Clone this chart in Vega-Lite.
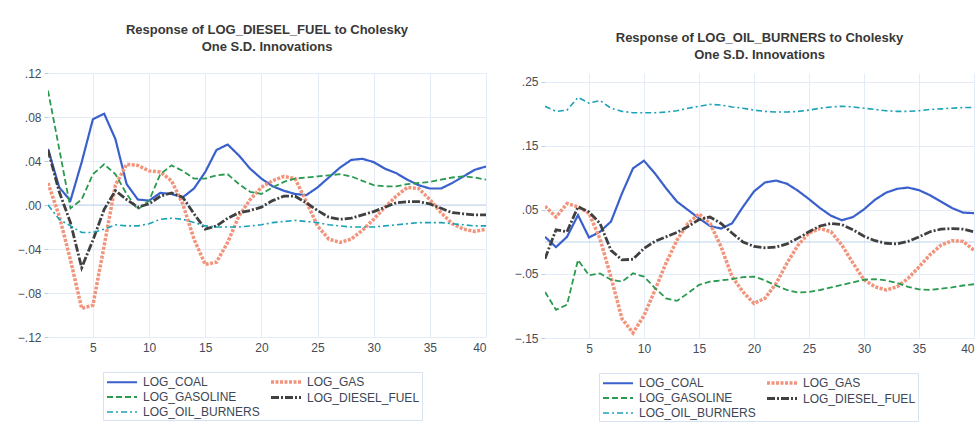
{
 "$schema": "https://vega.github.io/schema/vega-lite/v6.json",
 "padding": {"left": 17, "top": 24, "right": 0, "bottom": 0},
 "background": "white",
 "bounds": "flush",
 "spacing": 59,
 "config": {
  "view": {"stroke": null},
  "font": "Liberation Sans",
  "axis": {"labelFont": "Liberation Sans", "labelFontSize": 12, "labelColor": "#444c58", "gridColor": "#e4edf7", "gridWidth": 1, "domain": false, "tickColor": "#b9cfe8", "title": null},
  "title": {"font": "Liberation Sans", "fontSize": 13, "fontWeight": "bold", "color": "#383838", "lineHeight": 17, "anchor": "middle"},
  "legend": {"orient": "none", "columns": 2, "symbolType": "M-2.5,0H2.5", "symbolSize": 144, "symbolOffset": 9, "symbolStrokeWidth": 2.2, "labelFont": "Liberation Sans", "labelFontSize": 12, "labelColor": "#3c4654", "strokeColor": "#d6e2ef", "padding": 2, "rowPadding": 1, "columnPadding": 4, "labelOffset": 13, "title": null, "labelLimit": 300}
 },
 "resolve": {"scale": {"color": "independent", "strokeDash": "independent", "strokeWidth": "independent", "x": "independent", "y": "independent"}, "legend": {"color": "independent", "strokeDash": "independent"}},
 "datasets": {
  "left": [
   {"t":1,"s":"LOG_COAL","v":0.051},{"t":2,"s":"LOG_COAL","v":0.016},{"t":3,"s":"LOG_COAL","v":0.004},{"t":4,"s":"LOG_COAL","v":0.039},{"t":5,"s":"LOG_COAL","v":0.078},{"t":6,"s":"LOG_COAL","v":0.083},{"t":7,"s":"LOG_COAL","v":0.060},{"t":8,"s":"LOG_COAL","v":0.019},{"t":9,"s":"LOG_COAL","v":0.005},{"t":10,"s":"LOG_COAL","v":0.004},
   {"t":11,"s":"LOG_COAL","v":0.011},{"t":12,"s":"LOG_COAL","v":0.010},{"t":13,"s":"LOG_COAL","v":0.007},{"t":14,"s":"LOG_COAL","v":0.015},{"t":15,"s":"LOG_COAL","v":0.030},{"t":16,"s":"LOG_COAL","v":0.050},{"t":17,"s":"LOG_COAL","v":0.055},{"t":18,"s":"LOG_COAL","v":0.045},{"t":19,"s":"LOG_COAL","v":0.033},{"t":20,"s":"LOG_COAL","v":0.024},
   {"t":21,"s":"LOG_COAL","v":0.017},{"t":22,"s":"LOG_COAL","v":0.013},{"t":23,"s":"LOG_COAL","v":0.010},{"t":24,"s":"LOG_COAL","v":0.009},{"t":25,"s":"LOG_COAL","v":0.016},{"t":26,"s":"LOG_COAL","v":0.025},{"t":27,"s":"LOG_COAL","v":0.034},{"t":28,"s":"LOG_COAL","v":0.041},{"t":29,"s":"LOG_COAL","v":0.042},{"t":30,"s":"LOG_COAL","v":0.039},
   {"t":31,"s":"LOG_COAL","v":0.033},{"t":32,"s":"LOG_COAL","v":0.029},{"t":33,"s":"LOG_COAL","v":0.023},{"t":34,"s":"LOG_COAL","v":0.018},{"t":35,"s":"LOG_COAL","v":0.015},{"t":36,"s":"LOG_COAL","v":0.015},{"t":37,"s":"LOG_COAL","v":0.020},{"t":38,"s":"LOG_COAL","v":0.026},{"t":39,"s":"LOG_COAL","v":0.032},{"t":40,"s":"LOG_COAL","v":0.035},
   {"t":1,"s":"LOG_GAS","v":0.020},{"t":2,"s":"LOG_GAS","v":-0.010},{"t":3,"s":"LOG_GAS","v":-0.050},{"t":4,"s":"LOG_GAS","v":-0.094},{"t":5,"s":"LOG_GAS","v":-0.091},{"t":6,"s":"LOG_GAS","v":-0.037},{"t":7,"s":"LOG_GAS","v":0.018},{"t":8,"s":"LOG_GAS","v":0.037},{"t":9,"s":"LOG_GAS","v":0.036},{"t":10,"s":"LOG_GAS","v":0.031},
   {"t":11,"s":"LOG_GAS","v":0.030},{"t":12,"s":"LOG_GAS","v":0.022},{"t":13,"s":"LOG_GAS","v":0.001},{"t":14,"s":"LOG_GAS","v":-0.031},{"t":15,"s":"LOG_GAS","v":-0.054},{"t":16,"s":"LOG_GAS","v":-0.052},{"t":17,"s":"LOG_GAS","v":-0.034},{"t":18,"s":"LOG_GAS","v":-0.010},{"t":19,"s":"LOG_GAS","v":0.005},{"t":20,"s":"LOG_GAS","v":0.016},
   {"t":21,"s":"LOG_GAS","v":0.022},{"t":22,"s":"LOG_GAS","v":0.026},{"t":23,"s":"LOG_GAS","v":0.024},{"t":24,"s":"LOG_GAS","v":0.003},{"t":25,"s":"LOG_GAS","v":-0.019},{"t":26,"s":"LOG_GAS","v":-0.031},{"t":27,"s":"LOG_GAS","v":-0.034},{"t":28,"s":"LOG_GAS","v":-0.031},{"t":29,"s":"LOG_GAS","v":-0.023},{"t":30,"s":"LOG_GAS","v":-0.013},
   {"t":31,"s":"LOG_GAS","v":-0.002},{"t":32,"s":"LOG_GAS","v":0.008},{"t":33,"s":"LOG_GAS","v":0.016},{"t":34,"s":"LOG_GAS","v":0.015},{"t":35,"s":"LOG_GAS","v":0.005},{"t":36,"s":"LOG_GAS","v":-0.007},{"t":37,"s":"LOG_GAS","v":-0.017},{"t":38,"s":"LOG_GAS","v":-0.022},{"t":39,"s":"LOG_GAS","v":-0.024},{"t":40,"s":"LOG_GAS","v":-0.022},
   {"t":1,"s":"LOG_GASOLINE","v":0.104},{"t":2,"s":"LOG_GASOLINE","v":0.051},{"t":3,"s":"LOG_GASOLINE","v":-0.003},{"t":4,"s":"LOG_GASOLINE","v":0.005},{"t":5,"s":"LOG_GASOLINE","v":0.028},{"t":6,"s":"LOG_GASOLINE","v":0.037},{"t":7,"s":"LOG_GASOLINE","v":0.028},{"t":8,"s":"LOG_GASOLINE","v":0.010},{"t":9,"s":"LOG_GASOLINE","v":-0.004},{"t":10,"s":"LOG_GASOLINE","v":0.004},
   {"t":11,"s":"LOG_GASOLINE","v":0.028},{"t":12,"s":"LOG_GASOLINE","v":0.036},{"t":13,"s":"LOG_GASOLINE","v":0.031},{"t":14,"s":"LOG_GASOLINE","v":0.024},{"t":15,"s":"LOG_GASOLINE","v":0.024},{"t":16,"s":"LOG_GASOLINE","v":0.027},{"t":17,"s":"LOG_GASOLINE","v":0.028},{"t":18,"s":"LOG_GASOLINE","v":0.019},{"t":19,"s":"LOG_GASOLINE","v":0.012},{"t":20,"s":"LOG_GASOLINE","v":0.010},
   {"t":21,"s":"LOG_GASOLINE","v":0.016},{"t":22,"s":"LOG_GASOLINE","v":0.021},{"t":23,"s":"LOG_GASOLINE","v":0.024},{"t":24,"s":"LOG_GASOLINE","v":0.025},{"t":25,"s":"LOG_GASOLINE","v":0.026},{"t":26,"s":"LOG_GASOLINE","v":0.027},{"t":27,"s":"LOG_GASOLINE","v":0.028},{"t":28,"s":"LOG_GASOLINE","v":0.026},{"t":29,"s":"LOG_GASOLINE","v":0.022},{"t":30,"s":"LOG_GASOLINE","v":0.018},
   {"t":31,"s":"LOG_GASOLINE","v":0.017},{"t":32,"s":"LOG_GASOLINE","v":0.017},{"t":33,"s":"LOG_GASOLINE","v":0.019},{"t":34,"s":"LOG_GASOLINE","v":0.020},{"t":35,"s":"LOG_GASOLINE","v":0.021},{"t":36,"s":"LOG_GASOLINE","v":0.023},{"t":37,"s":"LOG_GASOLINE","v":0.025},{"t":38,"s":"LOG_GASOLINE","v":0.026},{"t":39,"s":"LOG_GASOLINE","v":0.025},{"t":40,"s":"LOG_GASOLINE","v":0.023},
   {"t":1,"s":"LOG_DIESEL_FUEL","v":0.050},{"t":2,"s":"LOG_DIESEL_FUEL","v":0.012},{"t":3,"s":"LOG_DIESEL_FUEL","v":-0.016},{"t":4,"s":"LOG_DIESEL_FUEL","v":-0.057},{"t":5,"s":"LOG_DIESEL_FUEL","v":-0.032},{"t":6,"s":"LOG_DIESEL_FUEL","v":-0.004},{"t":7,"s":"LOG_DIESEL_FUEL","v":0.013},{"t":8,"s":"LOG_DIESEL_FUEL","v":0.005},{"t":9,"s":"LOG_DIESEL_FUEL","v":-0.002},{"t":10,"s":"LOG_DIESEL_FUEL","v":0.001},
   {"t":11,"s":"LOG_DIESEL_FUEL","v":0.008},{"t":12,"s":"LOG_DIESEL_FUEL","v":0.011},{"t":13,"s":"LOG_DIESEL_FUEL","v":0.007},{"t":14,"s":"LOG_DIESEL_FUEL","v":-0.008},{"t":15,"s":"LOG_DIESEL_FUEL","v":-0.022},{"t":16,"s":"LOG_DIESEL_FUEL","v":-0.019},{"t":17,"s":"LOG_DIESEL_FUEL","v":-0.012},{"t":18,"s":"LOG_DIESEL_FUEL","v":-0.007},{"t":19,"s":"LOG_DIESEL_FUEL","v":-0.005},{"t":20,"s":"LOG_DIESEL_FUEL","v":-0.002},
   {"t":21,"s":"LOG_DIESEL_FUEL","v":0.004},{"t":22,"s":"LOG_DIESEL_FUEL","v":0.008},{"t":23,"s":"LOG_DIESEL_FUEL","v":0.008},{"t":24,"s":"LOG_DIESEL_FUEL","v":0.002},{"t":25,"s":"LOG_DIESEL_FUEL","v":-0.005},{"t":26,"s":"LOG_DIESEL_FUEL","v":-0.011},{"t":27,"s":"LOG_DIESEL_FUEL","v":-0.013},{"t":28,"s":"LOG_DIESEL_FUEL","v":-0.012},{"t":29,"s":"LOG_DIESEL_FUEL","v":-0.009},{"t":30,"s":"LOG_DIESEL_FUEL","v":-0.006},
   {"t":31,"s":"LOG_DIESEL_FUEL","v":-0.002},{"t":32,"s":"LOG_DIESEL_FUEL","v":0.002},{"t":33,"s":"LOG_DIESEL_FUEL","v":0.003},{"t":34,"s":"LOG_DIESEL_FUEL","v":0.003},{"t":35,"s":"LOG_DIESEL_FUEL","v":0.001},{"t":36,"s":"LOG_DIESEL_FUEL","v":-0.003},{"t":37,"s":"LOG_DIESEL_FUEL","v":-0.007},{"t":38,"s":"LOG_DIESEL_FUEL","v":-0.008},{"t":39,"s":"LOG_DIESEL_FUEL","v":-0.009},{"t":40,"s":"LOG_DIESEL_FUEL","v":-0.009},
   {"t":1,"s":"LOG_OIL_BURNERS","v":0.000},{"t":2,"s":"LOG_OIL_BURNERS","v":-0.013},{"t":3,"s":"LOG_OIL_BURNERS","v":-0.019},{"t":4,"s":"LOG_OIL_BURNERS","v":-0.025},{"t":5,"s":"LOG_OIL_BURNERS","v":-0.025},{"t":6,"s":"LOG_OIL_BURNERS","v":-0.022},{"t":7,"s":"LOG_OIL_BURNERS","v":-0.018},{"t":8,"s":"LOG_OIL_BURNERS","v":-0.019},{"t":9,"s":"LOG_OIL_BURNERS","v":-0.019},{"t":10,"s":"LOG_OIL_BURNERS","v":-0.017},
   {"t":11,"s":"LOG_OIL_BURNERS","v":-0.013},{"t":12,"s":"LOG_OIL_BURNERS","v":-0.012},{"t":13,"s":"LOG_OIL_BURNERS","v":-0.013},{"t":14,"s":"LOG_OIL_BURNERS","v":-0.016},{"t":15,"s":"LOG_OIL_BURNERS","v":-0.019},{"t":16,"s":"LOG_OIL_BURNERS","v":-0.020},{"t":17,"s":"LOG_OIL_BURNERS","v":-0.020},{"t":18,"s":"LOG_OIL_BURNERS","v":-0.020},{"t":19,"s":"LOG_OIL_BURNERS","v":-0.019},{"t":20,"s":"LOG_OIL_BURNERS","v":-0.018},
   {"t":21,"s":"LOG_OIL_BURNERS","v":-0.016},{"t":22,"s":"LOG_OIL_BURNERS","v":-0.015},{"t":23,"s":"LOG_OIL_BURNERS","v":-0.014},{"t":24,"s":"LOG_OIL_BURNERS","v":-0.015},{"t":25,"s":"LOG_OIL_BURNERS","v":-0.016},{"t":26,"s":"LOG_OIL_BURNERS","v":-0.018},{"t":27,"s":"LOG_OIL_BURNERS","v":-0.019},{"t":28,"s":"LOG_OIL_BURNERS","v":-0.020},{"t":29,"s":"LOG_OIL_BURNERS","v":-0.020},{"t":30,"s":"LOG_OIL_BURNERS","v":-0.020},
   {"t":31,"s":"LOG_OIL_BURNERS","v":-0.019},{"t":32,"s":"LOG_OIL_BURNERS","v":-0.018},{"t":33,"s":"LOG_OIL_BURNERS","v":-0.017},{"t":34,"s":"LOG_OIL_BURNERS","v":-0.016},{"t":35,"s":"LOG_OIL_BURNERS","v":-0.016},{"t":36,"s":"LOG_OIL_BURNERS","v":-0.016},{"t":37,"s":"LOG_OIL_BURNERS","v":-0.017},{"t":38,"s":"LOG_OIL_BURNERS","v":-0.018},{"t":39,"s":"LOG_OIL_BURNERS","v":-0.019},{"t":40,"s":"LOG_OIL_BURNERS","v":-0.019}
  ],
  "right": [
   {"t":1,"s":"LOG_COAL","v":0.008},{"t":2,"s":"LOG_COAL","v":-0.008},{"t":3,"s":"LOG_COAL","v":0.008},{"t":4,"s":"LOG_COAL","v":0.042},{"t":5,"s":"LOG_COAL","v":0.007},{"t":6,"s":"LOG_COAL","v":0.016},{"t":7,"s":"LOG_COAL","v":0.032},{"t":8,"s":"LOG_COAL","v":0.076},{"t":9,"s":"LOG_COAL","v":0.115},{"t":10,"s":"LOG_COAL","v":0.127},
   {"t":11,"s":"LOG_COAL","v":0.107},{"t":12,"s":"LOG_COAL","v":0.084},{"t":13,"s":"LOG_COAL","v":0.063},{"t":14,"s":"LOG_COAL","v":0.050},{"t":15,"s":"LOG_COAL","v":0.037},{"t":16,"s":"LOG_COAL","v":0.025},{"t":17,"s":"LOG_COAL","v":0.021},{"t":18,"s":"LOG_COAL","v":0.029},{"t":19,"s":"LOG_COAL","v":0.055},{"t":20,"s":"LOG_COAL","v":0.079},
   {"t":21,"s":"LOG_COAL","v":0.093},{"t":22,"s":"LOG_COAL","v":0.096},{"t":23,"s":"LOG_COAL","v":0.091},{"t":24,"s":"LOG_COAL","v":0.080},{"t":25,"s":"LOG_COAL","v":0.067},{"t":26,"s":"LOG_COAL","v":0.053},{"t":27,"s":"LOG_COAL","v":0.041},{"t":28,"s":"LOG_COAL","v":0.034},{"t":29,"s":"LOG_COAL","v":0.039},{"t":30,"s":"LOG_COAL","v":0.051},
   {"t":31,"s":"LOG_COAL","v":0.066},{"t":32,"s":"LOG_COAL","v":0.077},{"t":33,"s":"LOG_COAL","v":0.083},{"t":34,"s":"LOG_COAL","v":0.085},{"t":35,"s":"LOG_COAL","v":0.081},{"t":36,"s":"LOG_COAL","v":0.073},{"t":37,"s":"LOG_COAL","v":0.063},{"t":38,"s":"LOG_COAL","v":0.053},{"t":39,"s":"LOG_COAL","v":0.046},{"t":40,"s":"LOG_COAL","v":0.045},
   {"t":1,"s":"LOG_GAS","v":0.056},{"t":2,"s":"LOG_GAS","v":0.039},{"t":3,"s":"LOG_GAS","v":0.060},{"t":4,"s":"LOG_GAS","v":0.055},{"t":5,"s":"LOG_GAS","v":0.045},{"t":6,"s":"LOG_GAS","v":0.005},{"t":7,"s":"LOG_GAS","v":-0.055},{"t":8,"s":"LOG_GAS","v":-0.120},{"t":9,"s":"LOG_GAS","v":-0.142},{"t":10,"s":"LOG_GAS","v":-0.115},
   {"t":11,"s":"LOG_GAS","v":-0.075},{"t":12,"s":"LOG_GAS","v":-0.033},{"t":13,"s":"LOG_GAS","v":0.003},{"t":14,"s":"LOG_GAS","v":0.029},{"t":15,"s":"LOG_GAS","v":0.044},{"t":16,"s":"LOG_GAS","v":0.029},{"t":17,"s":"LOG_GAS","v":-0.007},{"t":18,"s":"LOG_GAS","v":-0.054},{"t":19,"s":"LOG_GAS","v":-0.078},{"t":20,"s":"LOG_GAS","v":-0.096},
   {"t":21,"s":"LOG_GAS","v":-0.088},{"t":22,"s":"LOG_GAS","v":-0.065},{"t":23,"s":"LOG_GAS","v":-0.033},{"t":24,"s":"LOG_GAS","v":-0.005},{"t":25,"s":"LOG_GAS","v":0.014},{"t":26,"s":"LOG_GAS","v":0.021},{"t":27,"s":"LOG_GAS","v":0.016},{"t":28,"s":"LOG_GAS","v":-0.005},{"t":29,"s":"LOG_GAS","v":-0.033},{"t":30,"s":"LOG_GAS","v":-0.059},
   {"t":31,"s":"LOG_GAS","v":-0.070},{"t":32,"s":"LOG_GAS","v":-0.075},{"t":33,"s":"LOG_GAS","v":-0.070},{"t":34,"s":"LOG_GAS","v":-0.057},{"t":35,"s":"LOG_GAS","v":-0.039},{"t":36,"s":"LOG_GAS","v":-0.020},{"t":37,"s":"LOG_GAS","v":-0.005},{"t":38,"s":"LOG_GAS","v":0.002},{"t":39,"s":"LOG_GAS","v":0.001},{"t":40,"s":"LOG_GAS","v":-0.013},
   {"t":1,"s":"LOG_GASOLINE","v":-0.078},{"t":2,"s":"LOG_GASOLINE","v":-0.106},{"t":3,"s":"LOG_GASOLINE","v":-0.098},{"t":4,"s":"LOG_GASOLINE","v":-0.028},{"t":5,"s":"LOG_GASOLINE","v":-0.052},{"t":6,"s":"LOG_GASOLINE","v":-0.049},{"t":7,"s":"LOG_GASOLINE","v":-0.059},{"t":8,"s":"LOG_GASOLINE","v":-0.062},{"t":9,"s":"LOG_GASOLINE","v":-0.049},{"t":10,"s":"LOG_GASOLINE","v":-0.054},
   {"t":11,"s":"LOG_GASOLINE","v":-0.072},{"t":12,"s":"LOG_GASOLINE","v":-0.088},{"t":13,"s":"LOG_GASOLINE","v":-0.092},{"t":14,"s":"LOG_GASOLINE","v":-0.080},{"t":15,"s":"LOG_GASOLINE","v":-0.067},{"t":16,"s":"LOG_GASOLINE","v":-0.062},{"t":17,"s":"LOG_GASOLINE","v":-0.060},{"t":18,"s":"LOG_GASOLINE","v":-0.058},{"t":19,"s":"LOG_GASOLINE","v":-0.055},{"t":20,"s":"LOG_GASOLINE","v":-0.054},
   {"t":21,"s":"LOG_GASOLINE","v":-0.060},{"t":22,"s":"LOG_GASOLINE","v":-0.068},{"t":23,"s":"LOG_GASOLINE","v":-0.075},{"t":24,"s":"LOG_GASOLINE","v":-0.079},{"t":25,"s":"LOG_GASOLINE","v":-0.078},{"t":26,"s":"LOG_GASOLINE","v":-0.075},{"t":27,"s":"LOG_GASOLINE","v":-0.071},{"t":28,"s":"LOG_GASOLINE","v":-0.067},{"t":29,"s":"LOG_GASOLINE","v":-0.063},{"t":30,"s":"LOG_GASOLINE","v":-0.059},
   {"t":31,"s":"LOG_GASOLINE","v":-0.058},{"t":32,"s":"LOG_GASOLINE","v":-0.060},{"t":33,"s":"LOG_GASOLINE","v":-0.064},{"t":34,"s":"LOG_GASOLINE","v":-0.070},{"t":35,"s":"LOG_GASOLINE","v":-0.074},{"t":36,"s":"LOG_GASOLINE","v":-0.075},{"t":37,"s":"LOG_GASOLINE","v":-0.073},{"t":38,"s":"LOG_GASOLINE","v":-0.071},{"t":39,"s":"LOG_GASOLINE","v":-0.068},{"t":40,"s":"LOG_GASOLINE","v":-0.066},
   {"t":1,"s":"LOG_DIESEL_FUEL","v":-0.026},{"t":2,"s":"LOG_DIESEL_FUEL","v":0.019},{"t":3,"s":"LOG_DIESEL_FUEL","v":0.016},{"t":4,"s":"LOG_DIESEL_FUEL","v":0.055},{"t":5,"s":"LOG_DIESEL_FUEL","v":0.047},{"t":6,"s":"LOG_DIESEL_FUEL","v":0.029},{"t":7,"s":"LOG_DIESEL_FUEL","v":-0.013},{"t":8,"s":"LOG_DIESEL_FUEL","v":-0.028},{"t":9,"s":"LOG_DIESEL_FUEL","v":-0.027},{"t":10,"s":"LOG_DIESEL_FUEL","v":-0.010},
   {"t":11,"s":"LOG_DIESEL_FUEL","v":0.001},{"t":12,"s":"LOG_DIESEL_FUEL","v":0.008},{"t":13,"s":"LOG_DIESEL_FUEL","v":0.015},{"t":14,"s":"LOG_DIESEL_FUEL","v":0.024},{"t":15,"s":"LOG_DIESEL_FUEL","v":0.035},{"t":16,"s":"LOG_DIESEL_FUEL","v":0.039},{"t":17,"s":"LOG_DIESEL_FUEL","v":0.029},{"t":18,"s":"LOG_DIESEL_FUEL","v":0.014},{"t":19,"s":"LOG_DIESEL_FUEL","v":0.000},{"t":20,"s":"LOG_DIESEL_FUEL","v":-0.007},
   {"t":21,"s":"LOG_DIESEL_FUEL","v":-0.009},{"t":22,"s":"LOG_DIESEL_FUEL","v":-0.008},{"t":23,"s":"LOG_DIESEL_FUEL","v":-0.003},{"t":24,"s":"LOG_DIESEL_FUEL","v":0.006},{"t":25,"s":"LOG_DIESEL_FUEL","v":0.016},{"t":26,"s":"LOG_DIESEL_FUEL","v":0.025},{"t":27,"s":"LOG_DIESEL_FUEL","v":0.029},{"t":28,"s":"LOG_DIESEL_FUEL","v":0.027},{"t":29,"s":"LOG_DIESEL_FUEL","v":0.019},{"t":30,"s":"LOG_DIESEL_FUEL","v":0.009},
   {"t":31,"s":"LOG_DIESEL_FUEL","v":0.002},{"t":32,"s":"LOG_DIESEL_FUEL","v":-0.002},{"t":33,"s":"LOG_DIESEL_FUEL","v":-0.003},{"t":34,"s":"LOG_DIESEL_FUEL","v":0.001},{"t":35,"s":"LOG_DIESEL_FUEL","v":0.008},{"t":36,"s":"LOG_DIESEL_FUEL","v":0.016},{"t":37,"s":"LOG_DIESEL_FUEL","v":0.020},{"t":38,"s":"LOG_DIESEL_FUEL","v":0.021},{"t":39,"s":"LOG_DIESEL_FUEL","v":0.020},{"t":40,"s":"LOG_DIESEL_FUEL","v":0.016},
   {"t":1,"s":"LOG_OIL_BURNERS","v":0.212},{"t":2,"s":"LOG_OIL_BURNERS","v":0.204},{"t":3,"s":"LOG_OIL_BURNERS","v":0.206},{"t":4,"s":"LOG_OIL_BURNERS","v":0.226},{"t":5,"s":"LOG_OIL_BURNERS","v":0.217},{"t":6,"s":"LOG_OIL_BURNERS","v":0.221},{"t":7,"s":"LOG_OIL_BURNERS","v":0.209},{"t":8,"s":"LOG_OIL_BURNERS","v":0.204},{"t":9,"s":"LOG_OIL_BURNERS","v":0.202},{"t":10,"s":"LOG_OIL_BURNERS","v":0.202},
   {"t":11,"s":"LOG_OIL_BURNERS","v":0.202},{"t":12,"s":"LOG_OIL_BURNERS","v":0.203},{"t":13,"s":"LOG_OIL_BURNERS","v":0.205},{"t":14,"s":"LOG_OIL_BURNERS","v":0.209},{"t":15,"s":"LOG_OIL_BURNERS","v":0.212},{"t":16,"s":"LOG_OIL_BURNERS","v":0.215},{"t":17,"s":"LOG_OIL_BURNERS","v":0.214},{"t":18,"s":"LOG_OIL_BURNERS","v":0.211},{"t":19,"s":"LOG_OIL_BURNERS","v":0.209},{"t":20,"s":"LOG_OIL_BURNERS","v":0.206},
   {"t":21,"s":"LOG_OIL_BURNERS","v":0.204},{"t":22,"s":"LOG_OIL_BURNERS","v":0.203},{"t":23,"s":"LOG_OIL_BURNERS","v":0.203},{"t":24,"s":"LOG_OIL_BURNERS","v":0.204},{"t":25,"s":"LOG_OIL_BURNERS","v":0.206},{"t":26,"s":"LOG_OIL_BURNERS","v":0.209},{"t":27,"s":"LOG_OIL_BURNERS","v":0.211},{"t":28,"s":"LOG_OIL_BURNERS","v":0.212},{"t":29,"s":"LOG_OIL_BURNERS","v":0.211},{"t":30,"s":"LOG_OIL_BURNERS","v":0.209},
   {"t":31,"s":"LOG_OIL_BURNERS","v":0.207},{"t":32,"s":"LOG_OIL_BURNERS","v":0.205},{"t":33,"s":"LOG_OIL_BURNERS","v":0.204},{"t":34,"s":"LOG_OIL_BURNERS","v":0.204},{"t":35,"s":"LOG_OIL_BURNERS","v":0.205},{"t":36,"s":"LOG_OIL_BURNERS","v":0.207},{"t":37,"s":"LOG_OIL_BURNERS","v":0.208},{"t":38,"s":"LOG_OIL_BURNERS","v":0.209},{"t":39,"s":"LOG_OIL_BURNERS","v":0.210},{"t":40,"s":"LOG_OIL_BURNERS","v":0.210}
  ]
 },
 "hconcat": [
  {
   "width": 438,
   "height": 264,
   "title": {"text": ["Response of LOG_DIESEL_FUEL to Cholesky", "One S.D. Innovations"], "offset": 13},
   "layer": [
    {
     "data": {"values": [{"z": 0}]},
     "mark": {"type": "rule", "color": "#bcd3ea", "strokeWidth": 1},
     "encoding": {"y": {"field": "z", "type": "quantitative", "scale": {"domain": [-0.12, 0.12], "nice": false, "zero": false}}}
    },
    {
     "data": {"name": "left"},
     "mark": {"type": "line", "clip": true},
     "encoding": {
      "x": {"field": "t", "type": "quantitative", "scale": {"domain": [1, 40], "nice": false, "zero": false}, "axis": {"values": [5, 10, 15, 20, 25, 30, 35, 40], "ticks": false, "labelPadding": 5, "grid": true}},
      "y": {"field": "v", "type": "quantitative", "scale": {"domain": [-0.12, 0.12], "nice": false, "zero": false}, "axis": {"values": [-0.12, -0.08, -0.04, 0, 0.04, 0.08, 0.12], "tickSize": 4, "labelPadding": 3, "grid": true, "labelExpr": "replace(format(datum.value, '.2f'), '0.', '.')"}},
      "color": {"field": "s", "type": "nominal", "scale": {"domain": ["LOG_COAL", "LOG_GASOLINE", "LOG_OIL_BURNERS", "LOG_GAS", "LOG_DIESEL_FUEL"], "range": ["#3a60cc", "#2a9a4e", "#1ba2b8", "#f2947c", "#404040"]}, "legend": {"legendX": 55, "legendY": 299}},
      "strokeDash": {"field": "s", "type": "nominal", "scale": {"domain": ["LOG_COAL", "LOG_GASOLINE", "LOG_OIL_BURNERS", "LOG_GAS", "LOG_DIESEL_FUEL"], "range": [[1, 0], [6, 3], [6, 3, 2, 3], [3, 1.5], [8, 2, 2, 2]]}, "legend": {"legendX": 55, "legendY": 299}},
      "strokeWidth": {"field": "s", "type": "ordinal", "scale": {"type": "ordinal", "domain": ["LOG_COAL", "LOG_GASOLINE", "LOG_OIL_BURNERS", "LOG_GAS", "LOG_DIESEL_FUEL"], "range": [2.2, 1.8, 1.6, 3.5, 2.8]}, "legend": null}
     }
    }
   ]
  },
  {
   "width": 429,
   "height": 265,
   "title": {"text": ["Response of LOG_OIL_BURNERS to Cholesky", "One S.D. Innovations"], "offset": 11},
   "layer": [
    {
     "data": {"values": [{"z": 0}]},
     "mark": {"type": "rule", "color": "#bcd3ea", "strokeWidth": 1},
     "encoding": {"y": {"field": "z", "type": "quantitative", "scale": {"domain": [-0.15, 0.264], "nice": false, "zero": false}}}
    },
    {
     "data": {"name": "right"},
     "mark": {"type": "line", "clip": true},
     "encoding": {
      "x": {"field": "t", "type": "quantitative", "scale": {"domain": [1, 40], "nice": false, "zero": false}, "axis": {"values": [5, 10, 15, 20, 25, 30, 35, 40], "ticks": false, "labelPadding": 5, "grid": true}},
      "y": {"field": "v", "type": "quantitative", "scale": {"domain": [-0.15, 0.264], "nice": false, "zero": false}, "axis": {"values": [-0.15, -0.1, -0.05, 0, 0.05, 0.1, 0.15, 0.2, 0.25], "tickSize": 4, "labelPadding": 3, "grid": true, "labelExpr": "replace(format(datum.value, '.2f'), '0.', '.')"}},
      "color": {"field": "s", "type": "nominal", "scale": {"domain": ["LOG_COAL", "LOG_GASOLINE", "LOG_OIL_BURNERS", "LOG_GAS", "LOG_DIESEL_FUEL"], "range": ["#3a60cc", "#2a9a4e", "#1ba2b8", "#f2947c", "#404040"]}, "legend": {"legendX": 54, "legendY": 300}},
      "strokeDash": {"field": "s", "type": "nominal", "scale": {"domain": ["LOG_COAL", "LOG_GASOLINE", "LOG_OIL_BURNERS", "LOG_GAS", "LOG_DIESEL_FUEL"], "range": [[1, 0], [6, 3], [6, 3, 2, 3], [3, 1.5], [8, 2, 2, 2]]}, "legend": {"legendX": 54, "legendY": 300}},
      "strokeWidth": {"field": "s", "type": "ordinal", "scale": {"type": "ordinal", "domain": ["LOG_COAL", "LOG_GASOLINE", "LOG_OIL_BURNERS", "LOG_GAS", "LOG_DIESEL_FUEL"], "range": [2.2, 1.8, 1.6, 3.5, 2.8]}, "legend": null}
     }
    }
   ]
  }
 ]
}
